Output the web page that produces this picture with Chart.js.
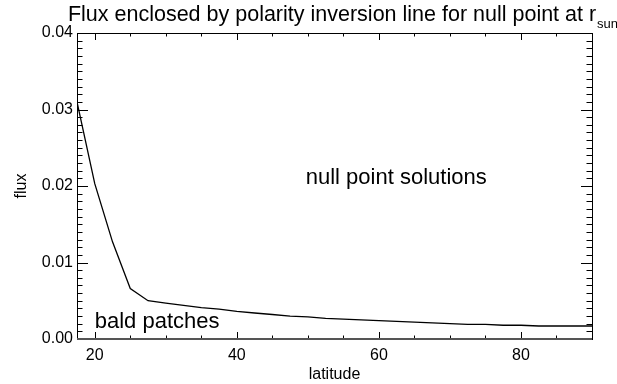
<!DOCTYPE html>
<html>
<head>
<meta charset="utf-8">
<script src="https://cdn.jsdelivr.net/npm/chart.js@4/dist/chart.umd.min.js"></script>
<style>
  html, body { margin: 0; padding: 0; background: #fff; }
  #wrap { width: 617px; height: 384px; }
</style>
</head>
<body>
<div id="wrap"><canvas id="fluxChart" width="617" height="384"></canvas></div>
<script>
// values
const latitudes = [17.5, 20, 22.5, 25, 27.5, 30, 32.5, 35, 37.5, 40, 42.5, 45, 47.5, 50,
    52.5, 55, 57.5, 60, 62.5, 65, 67.5, 70, 72.5, 75, 77.5, 80, 82.5, 85, 87.5, 90];
const fluxValues = [0.0310, 0.0203, 0.0127, 0.0066, 0.0050, 0.0047, 0.0044, 0.0041, 0.0039, 0.0036,
    0.0034, 0.0032, 0.0030, 0.0029, 0.0027, 0.0026, 0.0025, 0.0024, 0.0023, 0.0022,
    0.0021, 0.0020, 0.0019, 0.0019, 0.0018, 0.0018, 0.0017, 0.0017, 0.0017, 0.0017];
const xTicks = [20, 40, 60, 80];
const yTicks = [0.00, 0.01, 0.02, 0.03, 0.04];
const xMinorStep = 5;
const yMinorStep = 0.001;

const titleMain = 'Flux enclosed by polarity inversion line for null point at r';
const titleSub = 'sun';
const notes = [
    { text: 'null point solutions', lat: 49.7, flux: 0.0210 },
    { text: 'bald patches', lat: 20.0, flux: 0.0022 }
];

const FONT = '"Liberation Sans", Arial, Helvetica, sans-serif';

// IDL style frame: box with inward ticks on all four sides
const framePlugin = {
    id: 'frame',
    afterDatasetsDraw(chart) {
        const { ctx, chartArea: a, scales: { x, y } } = chart;
        ctx.save();
        ctx.strokeStyle = '#000';
        ctx.lineWidth = 1;

        const tick = (x1, y1, x2, y2) => {
            ctx.beginPath();
            ctx.moveTo(x1, y1);
            ctx.lineTo(x2, y2);
            ctx.stroke();
        };

        for (let v = Math.ceil(x.min / xMinorStep) * xMinorStep; v <= x.max + 1e-9; v += xMinorStep) {
            const px = Math.round(x.getPixelForValue(v)) + 0.5;
            const len = xTicks.includes(v) ? 7 : 3.5;
            tick(px, a.bottom, px, a.bottom - len);
            tick(px, a.top, px, a.top + len);
        }
        for (let i = 0; i <= Math.round(y.max / yMinorStep); i++) {
            const v = i * yMinorStep;
            const py = Math.round(y.getPixelForValue(v)) + 0.5;
            const len = i % 10 === 0 ? 11 : 5.5;
            tick(a.left, py, a.left + len, py);
            tick(a.right, py, a.right - len, py);
        }

        ctx.strokeRect(Math.round(a.left) + 0.5, Math.round(a.top) + 0.5,
            Math.round(a.right - a.left), Math.round(a.bottom - a.top));
        ctx.strokeStyle = '#555';
        ctx.lineWidth = 2;
        tick(a.left, a.bottom, a.right, a.bottom);

        // text notes placed in data units
        ctx.fillStyle = '#000';
        ctx.font = '22px ' + FONT;
        ctx.textBaseline = 'middle';
        ctx.textAlign = 'left';
        notes.forEach(n => {
            ctx.fillText(n.text, x.getPixelForValue(n.lat), y.getPixelForValue(n.flux));
        });

        // title with subscript
        ctx.textBaseline = 'alphabetic';
        ctx.font = '21.5px ' + FONT;
        const wMain = ctx.measureText(titleMain).width;
        ctx.font = '13px ' + FONT;
        const wSub = ctx.measureText(titleSub).width;
        const cx = (a.left + a.right) / 2 + 8;
        const startX = cx - (wMain + wSub) / 2;
        ctx.font = '21.5px ' + FONT;
        ctx.fillText(titleMain, startX, 21);
        ctx.font = '13px ' + FONT;
        ctx.fillText(titleSub, startX + wMain + 1, 28);
        ctx.restore();
    }
};

new Chart(document.getElementById('fluxChart'), {
    type: 'line',
    data: {
        datasets: [{
            data: latitudes.map((lat, i) => ({ x: lat, y: fluxValues[i] })),
            borderColor: '#000',
            borderWidth: 1.3,
            pointRadius: 0,
            tension: 0,
            fill: false
        }]
    },
    options: {
        responsive: false,
        animation: false,
        events: [],
        layout: { padding: { left: 0, top: 33, right: 25, bottom: 0 } },
        plugins: {
            legend: { display: false },
            title: { display: false },
            tooltip: { enabled: false }
        },
        scales: {
            x: {
                type: 'linear',
                min: 17.5,
                max: 90,
                grid: { display: false, drawTicks: false },
                border: { display: false },
                afterBuildTicks: s => { s.ticks = xTicks.map(v => ({ value: v })); },
                afterFit: s => { s.height = 45; },
                ticks: {
                    color: '#000',
                    padding: 7,
                    maxRotation: 0,
                    font: { family: FONT, size: 16 },
                    callback: v => String(v)
                },
                title: {
                    display: true,
                    text: 'latitude',
                    color: '#000',
                    font: { family: FONT, size: 16 },
                    padding: { top: 0, bottom: 0 }
                }
            },
            y: {
                type: 'linear',
                min: 0,
                max: 0.04,
                grid: { display: false, drawTicks: false },
                border: { display: false },
                afterBuildTicks: s => { s.ticks = yTicks.map(v => ({ value: v })); },
                afterFit: s => { s.width = 77; },
                ticks: {
                    color: '#000',
                    padding: 4,
                    font: { family: FONT, size: 16 },
                    callback: v => v.toFixed(2)
                },
                title: {
                    display: true,
                    text: 'flux',
                    color: '#000',
                    font: { family: FONT, size: 16 },
                    padding: { top: 12, bottom: 0 }
                }
            }
        }
    },
    plugins: [framePlugin]
});
</script>
</body>
</html>
